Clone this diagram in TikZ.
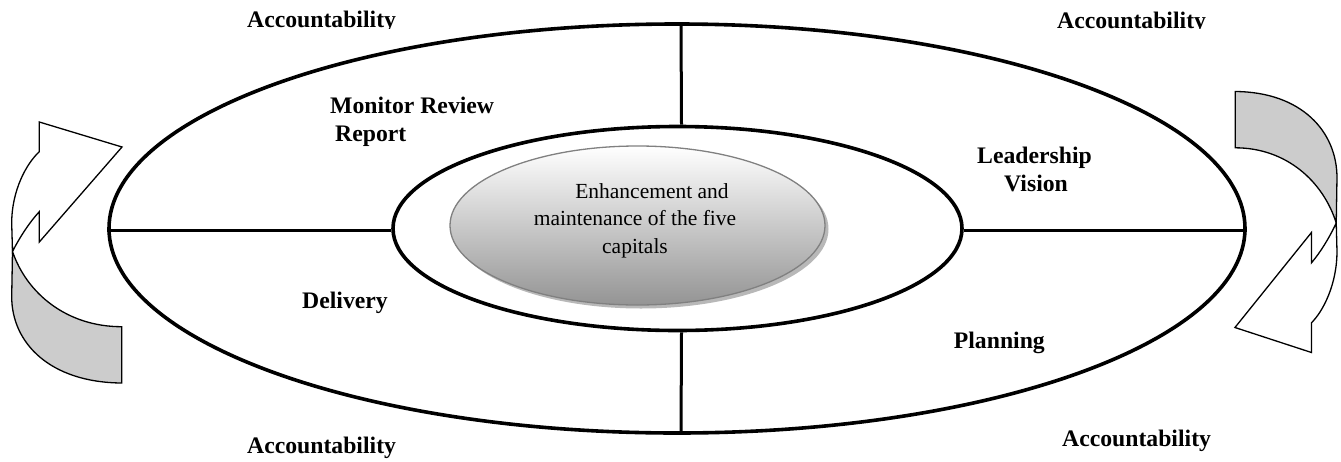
\documentclass[tikz,border=0pt]{standalone}
\usepackage{fontspec}
\setmainfont{Liberation Serif}
\usetikzlibrary{shapes.geometric,shadings}

% One curved "cycle" arrow: grey back face plus white front band with head
\newcommand{\cyclearrow}{%
  \filldraw[arrowline, backface]
    (121.7,326.7) .. controls (66.7,326.7) and (26.7,293.3) .. (12.5,251.5)
    -- (11.7,296.7) .. controls (11.7,343) and (50,382.5) .. (121.7,383)
    -- cycle;
  \filldraw[arrowline, fill=white]
    (12.5,251.5) -- (11.7,223.3) .. controls (11.7,190) and (26.7,163.3) .. (39.3,151.7)
    -- (39.3,122) -- (122,147) -- (39.3,242) -- (39.3,211.7)
    .. controls (30,221.7) and (20,236.7) .. (12.5,251.5) -- cycle;
}

\begin{document}
\begin{tikzpicture}[x=1pt,y=-1pt,
  ring/.style={ellipse, draw, line width=3.6pt, inner sep=0pt},
  spoke/.style={line width=3pt},
  lbl/.style={font=\fontsize{23.7}{27}\selectfont\bfseries, inner sep=0pt},
  arrowline/.style={line width=1.3pt, line join=miter},
  backface/.style={fill=black!20},
  coreshape/.style={ellipse, inner sep=0pt, minimum width=375pt, minimum height=159pt},
]
\useasboundingbox (0,0) rectangle (1341,461);

% rings
\node[ring, minimum width=1136pt, minimum height=409pt] (outer) at (677,228.5) {};
\node[ring, minimum width=569pt, minimum height=204pt] (inner) at (677.5,228.5) {};

% spokes between the rings
\draw[spoke] ([xshift=4pt]outer.north) -- ([xshift=4pt]inner.north);
\draw[spoke] ([xshift=4pt]inner.south) -- ([xshift=4pt]outer.south);
\draw[spoke] ([yshift=-1.5pt]outer.west) -- ([yshift=-1.5pt]inner.west);
\draw[spoke] ([yshift=-1.5pt]inner.east) -- ([yshift=-1.5pt]outer.east);

% central shaded ellipse with its shadow
\node[coreshape, fill=black!28] (coreshadow) at (641,229) {};
\node[coreshape, draw=black!50, line width=1.3pt, top color=white, bottom color=black!42] (core) at (637.5,225.5) {};
\node[font=\fontsize{21.5}{27.5}\selectfont, align=center, inner sep=0pt] (coretext) at (635,220.5)
  {\hspace*{34pt}Enhancement and\\maintenance of the five\\capitals};

% top labels sit in a strip that cuts off their descenders
\begin{scope}
  \clip (0,0) rectangle (1341,28);
  \node[lbl, anchor=base west] (accTL) at (247,27) {Accountability};
  \node[lbl, anchor=base west] (accTR) at (1057,28) {Accountability};
\end{scope}

% remaining quadrant labels
\node[lbl, anchor=base west] (accBL) at (247,453) {Accountability};
\node[lbl, anchor=base west] (accBR) at (1062,446) {Accountability};
\node[lbl, anchor=base west] (mon1) at (330,113) {Monitor Review};
\node[lbl, anchor=base west] (mon2) at (335,141) {Report};
\node[lbl, anchor=base west] (lead1) at (977,163) {Leadership};
\node[lbl, anchor=base west] (lead2) at (1004,191) {Vision};
\node[lbl, anchor=base] (deliv) at (345,308) {Delivery};
\node[lbl, anchor=base east] (plan) at (1045,348) {Planning};

% cycle arrows at both sides
\begin{scope}
  \cyclearrow
\end{scope}
\begin{scope}[shift={(1347.8,474.5)}, xscale=-0.925, yscale=-1]
  \cyclearrow
\end{scope}
\end{tikzpicture}
\end{document}
